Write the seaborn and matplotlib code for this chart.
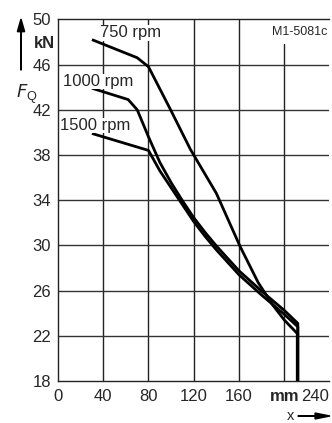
import matplotlib
matplotlib.use("Agg")
import matplotlib.pyplot as plt
import seaborn as sns
import pandas as pd

# Data
x_750 = [30, 70, 80, 100, 117, 140, 161, 177, 190, 200, 211.5, 211.5]
y_750 = [48.2, 46.6, 45.8, 41.9, 38.5, 34.6, 29.9, 26.7, 24.7, 23.4, 22.2, 18.0]

x_1000 = [30, 62, 70, 80, 90, 100, 110, 120, 130, 140, 160, 180, 200, 212, 212]
y_1000 = [43.9, 42.9, 42.0, 39.6, 37.35, 35.55, 33.95, 32.45, 31.15, 29.95, 27.75, 25.95, 24.25, 23.1, 18.0]

x_1500 = [30, 80, 90, 100, 110, 120, 130, 140, 160, 180, 200, 212, 212]
y_1500 = [39.9, 38.4, 36.6, 35.1, 33.6, 32.1, 30.8, 29.6, 27.4, 25.6, 23.9, 22.8, 18.0]

series_labels = ["750 rpm", "1000 rpm", "1500 rpm"]
label_pos = [(37, 48.8), (4, 44.5), (1.8, 40.6)]

y_ticks = [50, 46, 42, 38, 34, 30, 26, 22, 18]
x_ticks = [0, 40, 80, 120, 160, 200, 240]
x_tick_labels = ["0", "40", "80", "120", "160", "mm", "240"]

frames = []
for lab, xs, ys in zip(series_labels, [x_750, x_1000, x_1500], [y_750, y_1000, y_1500]):
    frames.append(pd.DataFrame({"x": xs, "y": ys, "rpm": lab, "order": range(len(xs))}))
df = pd.concat(frames, ignore_index=True)

sns.set_style("white")
plt.rcParams["font.family"] = ["Liberation Sans", "DejaVu Sans"]

FS = 12

fig = plt.figure(figsize=(3.32, 4.23), dpi=100)
ax = fig.add_axes([58 / 332, 1 - 381 / 423, (329.5 - 58) / 332, (381 - 19.3) / 423])

for lab in series_labels:
    sub = df[df["rpm"] == lab]
    sns.lineplot(data=sub, x="x", y="y", sort=False, estimator=None, color="black",
                 linewidth=2.0, ax=ax, legend=False,
                 solid_joinstyle="round", solid_capstyle="butt", zorder=5)

ax.set_xlim(0, 240)
ax.set_ylim(18, 50)

# grid
for xv in [40, 80, 120, 160]:
    ax.axvline(xv, color="#222222", lw=1.0, zorder=1)
ax.plot([200, 200], [18, 47.8], color="#222222", lw=1.0, zorder=1)
for yv in [22, 26, 30, 34, 38, 42, 46]:
    ax.axhline(yv, color="#333333", lw=1.0, zorder=1)

for s in ["left", "bottom", "top"]:
    ax.spines[s].set_color("#222222")
    ax.spines[s].set_linewidth(1.0)
ax.spines["right"].set_visible(False)

ax.set_xticks(x_ticks)
ax.set_xticklabels(x_tick_labels, fontsize=FS)
ax.set_yticks(y_ticks)
ax.set_yticklabels([str(v) for v in y_ticks], fontsize=FS)
ax.tick_params(axis="x", length=0, pad=6)
ax.tick_params(axis="y", length=0, pad=5)
ax.set_xlabel("")
ax.set_ylabel("")
xl = ax.get_xticklabels()
xl[5].set_fontweight("bold")
xl[-1].set_horizontalalignment("right")

# kN label
ax.text(-2.5, 47.9, "kN", fontsize=FS, fontweight="bold", ha="right", va="center")

# series labels
for lab, (lx, ly) in zip(series_labels, label_pos):
    ax.text(lx, ly, lab, fontsize=FS, ha="left", va="center", zorder=6,
            bbox=dict(facecolor="white", edgecolor="none", pad=0.3))

ax.text(238.5, 48.9, "M1-5081c", fontsize=9, ha="right", va="center", zorder=6)

# F_Q label and arrow
fig.text(27 / 332, 1 - 94 / 423, "$F_\\mathregular{Q}$", fontsize=13, ha="center", va="center")
fig.patches.append(matplotlib.patches.FancyArrow(
    21 / 332, 1 - 70 / 423, 0, (70 - 19) / 423, width=0.0015, head_width=0.022,
    head_length=0.03, length_includes_head=True, color="black", transform=fig.transFigure))

# x arrow
fig.text(291 / 332, 1 - 416 / 423, "x", fontsize=10.5, ha="center", va="center")
fig.patches.append(matplotlib.patches.FancyArrow(
    298 / 332, 1 - 416 / 423, (330 - 298) / 332, 0, width=0.001, head_width=0.014,
    head_length=0.045, length_includes_head=True, color="black", transform=fig.transFigure))

fig.savefig("out.png", dpi=100)
